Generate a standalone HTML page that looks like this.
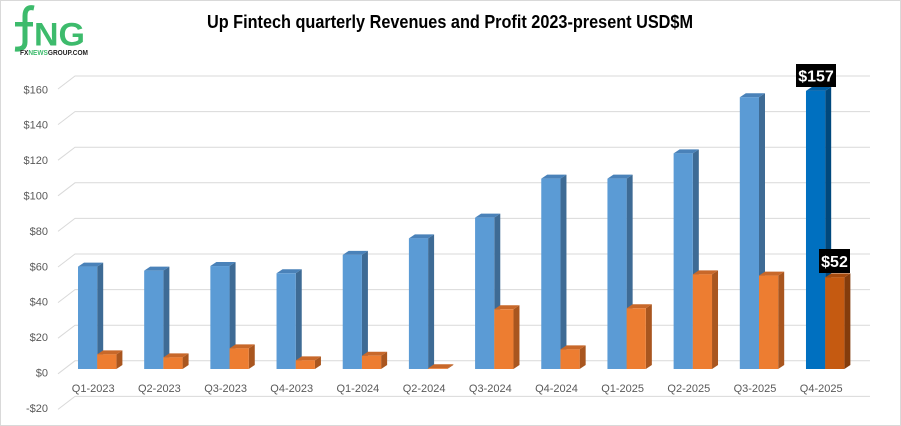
<!DOCTYPE html>
<html><head><meta charset="utf-8"><style>
html,body{margin:0;padding:0;background:#fff;}
svg{display:block;}
</style></head><body>
<svg width="901" height="426" viewBox="0 0 901 426" xmlns="http://www.w3.org/2000/svg" font-family="'Liberation Sans', sans-serif">
<rect x="0.5" y="0.5" width="900" height="425" fill="#fff" stroke="#d9d9d9"/>
<!-- logo -->
<path d="M34,8 Q25,6 25,16 L25,42 Q25,50 15,49" fill="none" stroke="#3dbb6c" stroke-width="5"/>
<rect x="15" y="22" width="18" height="4.5" fill="#3dbb6c"/>
<text x="34" y="45.5" font-size="32" font-weight="bold" fill="#3dbb6c" textLength="51" lengthAdjust="spacingAndGlyphs">NG</text>
<text x="20" y="55" font-size="7" font-weight="bold" fill="#222" textLength="68" lengthAdjust="spacingAndGlyphs">FX<tspan fill="#3dbb6c">NEWS</tspan>GROUP.COM</text>
<!-- title -->
<text x="450" y="28" font-size="18" font-weight="bold" fill="#000" text-anchor="middle" textLength="486" lengthAdjust="spacingAndGlyphs">Up Fintech quarterly Revenues and Profit 2023-present USD$M</text>
<g id="grid" stroke="#d9d9d9" stroke-width="1" fill="none"></g>
<g id="ylab" font-size="11" fill="#595959" text-anchor="end"></g>
<g id="bars"></g>
<g id="xlab" font-size="11" fill="#595959" text-anchor="middle"></g>
<rect x="796" y="64" width="40" height="23" fill="#000"/>
<text x="816" y="81.5" font-size="16" font-weight="bold" fill="#fff" text-anchor="middle">$157</text>
<rect x="819" y="249" width="31" height="24" fill="#000"/>
<text x="834.5" y="267" font-size="16" font-weight="bold" fill="#fff" text-anchor="middle">$52</text>
</svg>
<script>
(function(){
var NS="http://www.w3.org/2000/svg";
function el(t,a,p,txt){var e=document.createElementNS(NS,t);for(var k in a)e.setAttribute(k,a[k]);if(txt!=null)e.textContent=txt;p.appendChild(e);return e;}
var grid=document.getElementById('grid'),ylab=document.getElementById('ylab'),bars=document.getElementById('bars'),xlab=document.getElementById('xlab');
for(var v=-20;v<=160;v+=20){
 var by=76+(160-v)*1.78;
 el('polyline',{points:"58,"+(by+13)+" 75,"+by+" 870,"+by},grid);
 var cy=89.3+(160-v)*1.77;
 el('text',{x:48,y:(cy+4).toFixed(1)},ylab,(v<0?"-$"+(-v):"$"+v));
}
var blue=[58.0,55.7,58.3,54.2,64.6,74.0,85.7,107.8,107.8,122.1,153.9,157.5];
var orng=[8.3,6.6,11.7,4.9,7.5,0.4,33.8,11.1,34.4,53.6,52.9,51.9];
var labs=["Q1-2023","Q2-2023","Q3-2023","Q4-2023","Q1-2024","Q2-2024","Q3-2024","Q4-2024","Q1-2025","Q2-2025","Q3-2025","Q4-2025"];
var base=369,sc=1.766,w=19.2,dx=6,dy=4;
function bar(x,val,c){
 var top=base-val*sc;
 el('polygon',{points:(x+w)+","+top+" "+(x+w+dx)+","+(top-dy)+" "+(x+w+dx)+","+(base-dy)+" "+(x+w)+","+base,fill:c[1]},bars);
 el('polygon',{points:x+","+top+" "+(x+dx)+","+(top-dy)+" "+(x+w+dx)+","+(top-dy)+" "+(x+w)+","+top,fill:c[2]},bars);
 el('rect',{x:x,y:top,width:w,height:Math.max(base-top,0.3),fill:c[0]},bars);
}
for(var i=0;i<12;i++){
 var x=78+66.18*i;
 var hb=(i==11)?["#0070c0","#00487d","#005ea3"]:["#5b9bd5","#3e6b95","#4a82b9"];
 var ho=(i==11)?["#c55a11","#843c0c","#a64b0e"]:["#ed7d31","#a9561f","#c8682a"];
 bar(x,blue[i],hb);
 bar(x+w,orng[i],ho);
 el('text',{x:(x+w-4).toFixed(1),y:392},xlab,labs[i]);
}
})();
</script>
</body></html>
